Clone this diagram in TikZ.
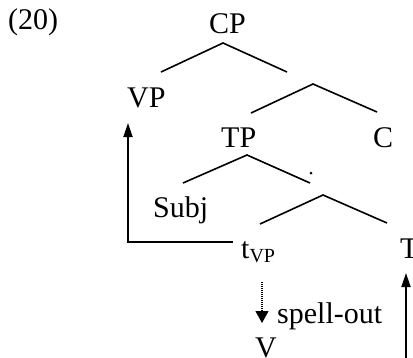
\documentclass[tikz,border=0pt]{standalone}
\usepackage{fontspec}
\setmainfont{Liberation Serif}
\usetikzlibrary{arrows.meta}
\begin{document}
\begin{tikzpicture}[x=1pt,y=-1pt,
  lbl/.style={anchor=base west,inner sep=0pt,font=\fontsize{30}{34}\selectfont},
  branch/.style={line width=1.6pt},
  move/.style={line width=1.8pt,-{Triangle[length=14pt,width=9pt]}},
  spell/.style={line width=1.2pt,dash pattern=on 1pt off 1pt,-{Triangle[length=12pt,width=13pt]}}]
\useasboundingbox (0,0) rectangle (413,357);

% labels
\node[lbl] (ex)   at (8,29)    {(20)};
\node[lbl] (CP)   at (209,33)  {CP};
\node[lbl] (VP)   at (127,107) {VP};
\node[lbl] (TP)   at (221,147) {TP};
\node[lbl] (C)    at (373,147) {C};
\node[lbl] (Subj) at (153,217) {Subj};
\node[lbl] (tvp)  at (241,258) {t\raisebox{-4pt}{\fontsize{20}{20}\selectfont VP}};
\node[lbl] (T)    at (400,258) {T};
\node[lbl] (so)   at (277,323) {spell-out};
\node[lbl] (V)    at (255,357) {V};

% branch points
\coordinate (cp-top) at (223,43);
\coordinate (cp-l)   at (161,72);
\coordinate (cp-r)   at (287,72);
\coordinate (cb-top) at (313,84);
\coordinate (cb-l)   at (251,113);
\coordinate (cb-r)   at (377,112);
\coordinate (tp-top) at (247,155);
\coordinate (tp-l)   at (183,183);
\coordinate (tp-r)   at (310,183);
\coordinate (tb-top) at (323,195);
\coordinate (tb-l)   at (260,224);
\coordinate (tb-r)   at (387,223);

\draw[branch] (cp-l) -- (cp-top) -- (cp-r);
\draw[branch] (cb-l) -- (cb-top) -- (cb-r);
\draw[branch] (tp-l) -- (tp-top) -- (tp-r);
\draw[branch] (tb-l) -- (tb-top) -- (tb-r);

% the small dot under TP
\fill (311,173) circle (1.5pt);

% VP movement
\coordinate (mv-start) at (233,242);
\coordinate (mv-end)   at (128,123);
\draw[move] (mv-start) -| (mv-end);

% spell-out
\coordinate (so-start) at (262,282);
\coordinate (so-end)   at (262,323);
\draw[spell] (so-start) -- (so-end);

% raising to T
\coordinate (t-start) at (406,360);
\coordinate (t-end)   at (406,273);
\draw[move] (t-start) -- (t-end);
\end{tikzpicture}
\end{document}
